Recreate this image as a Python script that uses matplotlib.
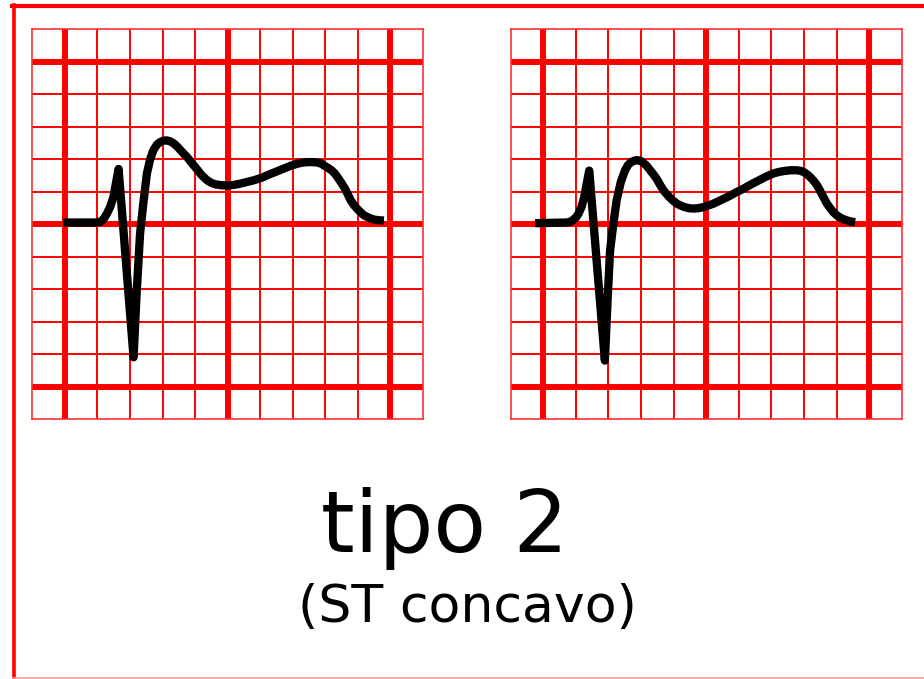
import matplotlib
matplotlib.use("Agg")
import matplotlib.pyplot as plt

RED = "#ff0000"

# grid: 12 x 12 small squares, heavy lines every 5 squares
GRID_N = 12
THICK_LINES = [1, 6, 11]

# left trace (grid units, y measured from bottom)
left_x = [0.95, 1.98, 2.08, 2.18, 2.29, 2.4, 2.49, 2.65, 3.11, 3.2, 3.31, 3.42,
          3.52, 3.62, 3.72, 3.83, 3.93, 4.03, 4.13, 4.24, 4.35, 4.45, 4.55, 4.65,
          4.75, 4.9, 5.05, 5.2, 5.37, 5.5, 5.65, 5.8, 5.98, 6.2, 6.4, 6.6, 6.8,
          7.05, 7.25, 7.5, 7.72, 7.92, 8.1, 8.27, 8.44, 8.6, 8.75, 8.88, 8.95,
          9.07, 9.2, 9.3, 9.37, 9.48, 9.6, 9.7, 9.78, 9.9, 10.0, 10.1, 10.19,
          10.35, 10.5, 10.65, 10.8]
left_y = [6.05, 6.05, 6.07, 6.14, 6.32, 6.55, 6.83, 7.7, 1.9, 3.8, 5.71, 6.73,
          7.56, 8.0, 8.28, 8.45, 8.53, 8.57, 8.58, 8.55, 8.48, 8.39, 8.28, 8.17,
          8.07, 7.88, 7.7, 7.51, 7.35, 7.27, 7.22, 7.2, 7.19, 7.21, 7.25, 7.3,
          7.35, 7.43, 7.52, 7.62, 7.71, 7.79, 7.85, 7.89, 7.91, 7.91, 7.9, 7.86,
          7.81, 7.74, 7.65, 7.55, 7.45, 7.29, 7.1, 6.9, 6.73, 6.56, 6.45, 6.35,
          6.27, 6.19, 6.14, 6.12, 6.11]

# right trace
right_x = [0.75, 1.72, 1.82, 1.9, 2.0, 2.08, 2.17, 2.25, 2.41, 2.89, 2.97, 3.05,
           3.15, 3.25, 3.38, 3.51, 3.6, 3.68, 3.78, 3.87, 3.98, 4.08, 4.18, 4.28,
           4.39, 4.49, 4.59, 4.69, 4.8, 4.9, 5.0, 5.1, 5.22, 5.35, 5.48, 5.61,
           5.75, 5.9, 6.05, 6.22, 6.45, 6.68, 6.9, 7.14, 7.37, 7.6, 7.83, 8.06,
           8.24, 8.42, 8.6, 8.78, 8.9, 9.0, 9.1, 9.19, 9.3, 9.4, 9.5, 9.6, 9.7,
           9.8, 9.9, 10.01, 10.15, 10.3, 10.45, 10.57]
right_y = [6.03, 6.05, 6.07, 6.12, 6.2, 6.32, 6.52, 6.8, 7.65, 1.8, 3.6, 5.19,
           6.0, 6.73, 7.3, 7.66, 7.82, 7.9, 7.95, 7.97, 7.95, 7.88, 7.79, 7.66,
           7.52, 7.38, 7.2, 7.04, 6.91, 6.8, 6.71, 6.63, 6.57, 6.52, 6.49, 6.48,
           6.49, 6.52, 6.57, 6.63, 6.74, 6.85, 6.97, 7.09, 7.22, 7.34, 7.46, 7.56,
           7.61, 7.64, 7.66, 7.66, 7.64, 7.6, 7.53, 7.45, 7.33, 7.2, 7.02, 6.83,
           6.64, 6.5, 6.37, 6.27, 6.18, 6.12, 6.08, 6.06]

title = "tipo 2"
subtitle = "(ST concavo)"


def ecg_panel(ax, xs, ys):
    ax.set_xlim(0, GRID_N)
    ax.set_ylim(0, GRID_N)
    for i in range(1, GRID_N):
        lw = 4.3 if i in THICK_LINES else 1.4
        ax.axvline(i, color=RED, lw=lw, zorder=1)
        ax.axhline(i, color=RED, lw=lw, zorder=1)
    for s in ax.spines.values():
        s.set_color("#ff3030")
        s.set_linewidth(1.2)
    ax.set_xticks([])
    ax.set_yticks([])
    ax.plot(xs, ys, color="black", lw=6.0, solid_joinstyle="round",
            solid_capstyle="butt", zorder=3)


fig = plt.figure(figsize=(9.24, 6.79), dpi=100)

# page frame
bg = fig.add_axes([0, 0, 1, 1])
bg.set_xlim(0, 924)
bg.set_ylim(679, 0)
bg.axis("off")
bg.plot([13.5, 13.5], [5, 679], color=RED, lw=2.6)
bg.plot([12, 924], [5.5, 5.5], color=RED, lw=3.0)
bg.plot([13, 924], [677.5, 677.5], color="#ff9a9a", lw=1.2)

ax1 = fig.add_axes([32.3 / 924, 1 - 419 / 679, 390.7 / 924, 389.7 / 679])
ecg_panel(ax1, left_x, left_y)

ax2 = fig.add_axes([510.7 / 924, 1 - 419 / 679, 391 / 924, 389.7 / 679])
ecg_panel(ax2, right_x, right_y)

fig.text(445 / 924, 1 - 552 / 679, title, ha="center", va="baseline",
         fontsize=62, family="DejaVu Sans")
fig.text(467 / 924, 1 - 622 / 679, subtitle, ha="center", va="baseline",
         fontsize=37.5, family="DejaVu Sans")

fig.savefig("out.png", dpi=100)
